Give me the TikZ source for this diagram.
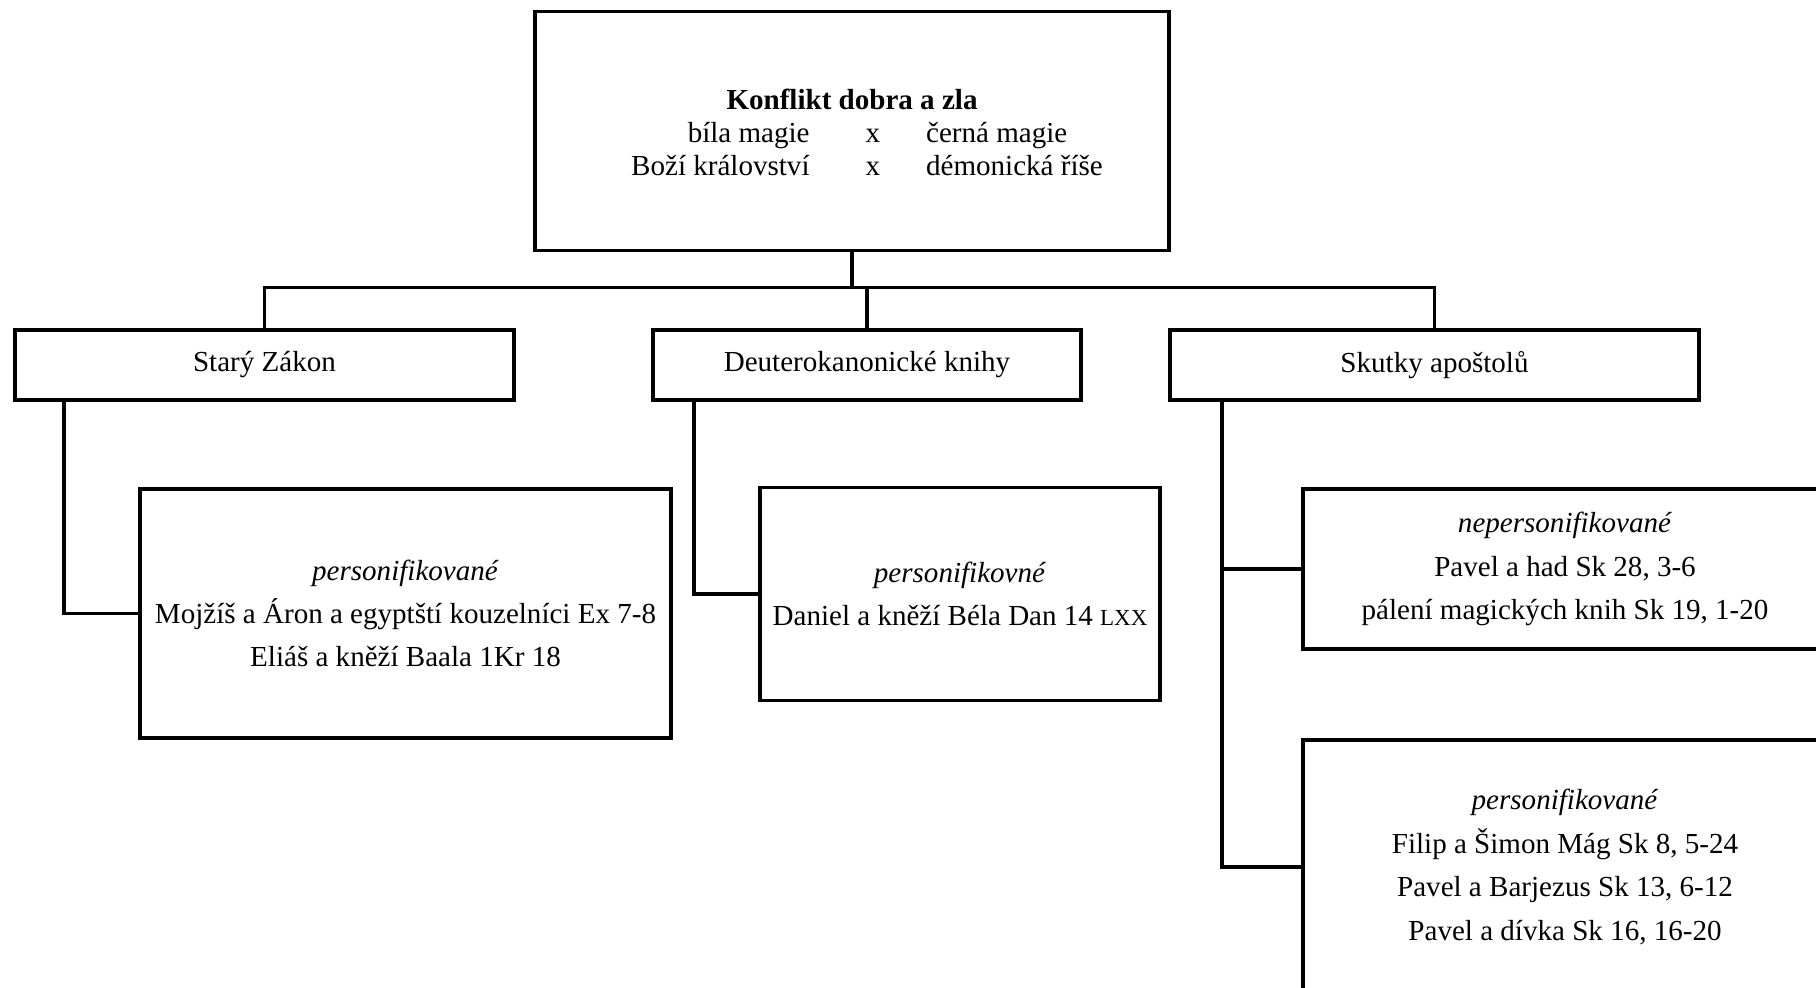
\documentclass[tikz,border=0pt]{standalone}
\usepackage{fontspec}
\setmainfont{Liberation Serif}
\usepackage{tikz}

\begin{document}
\begin{tikzpicture}[x=0.015cm,y=-0.015cm,
  box/.style={draw,line width=1.5pt,inner sep=2pt,align=center,
    font=\fontsize{12.4}{18.5}\selectfont},
  conn/.style={line width=1.5pt}]
  \useasboundingbox (0,0) rectangle (1816,987);
  \clip (0,0) rectangle (1816,987);
  % top box
  \node[box,minimum width=9.51cm,minimum height=3.585cm] (top) at (852,131) {};
  \node[font=\fontsize{12.4}{14.8}\selectfont\bfseries] (title) at (852,99) {Konflikt dobra a zla};
  \node[font=\fontsize{12.4}{14}\selectfont,inner sep=0pt] (pairs) at (867,152.5)
    {\begin{tabular}{@{}r@{\hspace{0.84cm}}c@{\hspace{0.69cm}}l@{}}
      bíla magie & x & černá magie\\
      Boží království & x & démonická říše
    \end{tabular}};
  % second level
  \node[box,minimum width=7.485cm,minimum height=1.05cm] (sz) at (264.5,365) {Starý Zákon};
  \node[box,minimum width=6.42cm,minimum height=1.05cm] (deut) at (867,365) {Deuterokanonické knihy};
  \node[box,minimum width=7.935cm,minimum height=1.05cm] (sk) at (1434.5,365) {Skutky apoštolů};
  % third level
  \node[box,minimum width=7.965cm,minimum height=3.735cm] (szpers) at (405.5,613.5)
    {\textit{personifikované}\\Mojžíš a Áron a egyptští kouzelníci Ex 7-8\\Eliáš a kněží Baala 1Kr 18};
  \node[box,minimum width=6cm,minimum height=3.195cm] (danpers) at (960,594)
    {\textit{personifikovné}\\Daniel a kněží Béla Dan 14 {\fontsize{9.8}{9.8}\selectfont LXX}};
  \node[box,minimum width=7.86cm,minimum height=2.4cm] (sknep) at (1565,569)
    {\textit{nepersonifikované}\\Pavel a had Sk 28, 3-6\\pálení magických knih Sk 19, 1-20};
  \node[box,minimum width=7.86cm,minimum height=3.81cm] (skpers) at (1565,867)
    {\textit{personifikované}\\Filip a Šimon Mág Sk 8, 5-24\\Pavel a Barjezus Sk 13, 6-12\\Pavel a dívka Sk 16, 16-20};
  % connectors
  \draw[conn] (top.south) -- ++(0,35) coordinate (bus);
  \draw[conn] (sz.north) |- (bus) -| (sk.north);
  \draw[conn] (deut.north) -- (deut.north |- bus);
  \draw[conn] (sz.south west) ++(51,0) |- (szpers.west);
  \draw[conn] (deut.south west) ++(43,0) |- (danpers.west);
  \draw[conn] (sk.south west) ++(54,0) |- (sknep.west);
  \draw[conn] (sk.south west) ++(54,0) |- (skpers.west);
\end{tikzpicture}
\end{document}
